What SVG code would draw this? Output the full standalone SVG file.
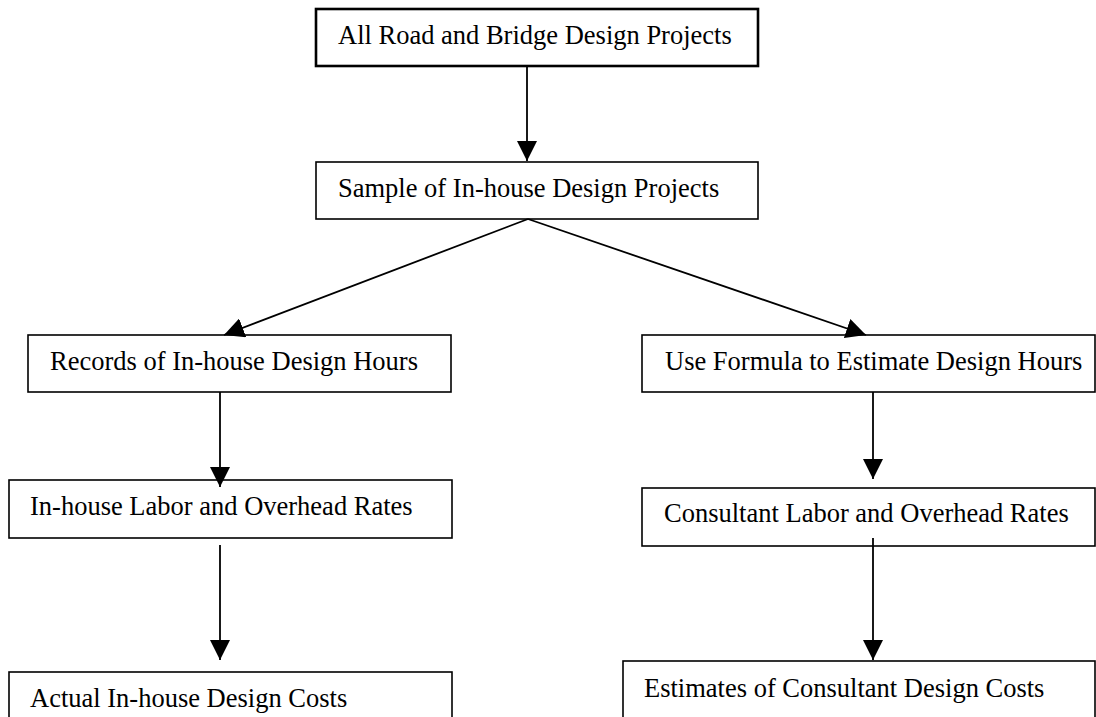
<svg xmlns="http://www.w3.org/2000/svg" width="1096" height="717" viewBox="0 0 1096 717">
<style>
.box{fill:#fff;stroke:#000;stroke-width:1.6}
.thick{stroke-width:2.6}
.lbl{font-family:"Liberation Serif","Times New Roman",serif;font-size:26.5px;fill:#000}
.con{stroke:#000;stroke-width:1.8;fill:none;marker-end:url(#ah)}
</style>
<defs>
<marker id="ah" markerUnits="userSpaceOnUse" markerWidth="20" markerHeight="20" refX="20" refY="10" orient="auto" viewBox="0 0 20 20">
<path d="M0,0 L20,10 L0,20 z" fill="#000"/>
</marker>
</defs>
<rect width="1096" height="717" fill="#fff"/>
<g id="n-all">
<rect class="box thick" x="316" y="9" width="442" height="57"/>
<text class="lbl" x="338" y="44">All Road and Bridge Design Projects</text>
</g>
<g id="n-sample">
<rect class="box" x="316" y="162" width="442" height="57"/>
<text class="lbl" x="338" y="197">Sample of In-house Design Projects</text>
</g>
<g id="n-records">
<rect class="box" x="28" y="335" width="423" height="57"/>
<text class="lbl" x="50" y="370">Records of In-house Design Hours</text>
</g>
<g id="n-formula">
<rect class="box" x="642" y="335" width="453" height="57"/>
<text class="lbl" x="665" y="370">Use Formula to Estimate Design Hours</text>
</g>
<g id="n-inlabor">
<rect class="box" x="9" y="480" width="443" height="58"/>
<text class="lbl" x="30" y="515">In-house Labor and Overhead Rates</text>
</g>
<g id="n-conlabor">
<rect class="box" x="642" y="488" width="453" height="58"/>
<text class="lbl" x="664" y="522">Consultant Labor and Overhead Rates</text>
</g>
<g id="n-actual">
<rect class="box" x="9" y="672" width="443" height="60"/>
<text class="lbl" x="30" y="707">Actual In-house Design Costs</text>
</g>
<g id="n-estimates">
<rect class="box" x="623" y="661" width="472" height="70"/>
<text class="lbl" x="644" y="697">Estimates of Consultant Design Costs</text>
</g>
<g id="connectors">
<line class="con" x1="527" y1="66" x2="527" y2="161"/>
<line class="con" x1="528" y1="219" x2="224" y2="335"/>
<line class="con" x1="528" y1="219" x2="866" y2="335"/>
<line class="con" x1="220" y1="392" x2="220" y2="487"/>
<line class="con" x1="220" y1="545" x2="220" y2="660"/>
<line class="con" x1="873" y1="392" x2="873" y2="479"/>
<line class="con" x1="873" y1="538" x2="873" y2="660"/>
</g>
</svg>
